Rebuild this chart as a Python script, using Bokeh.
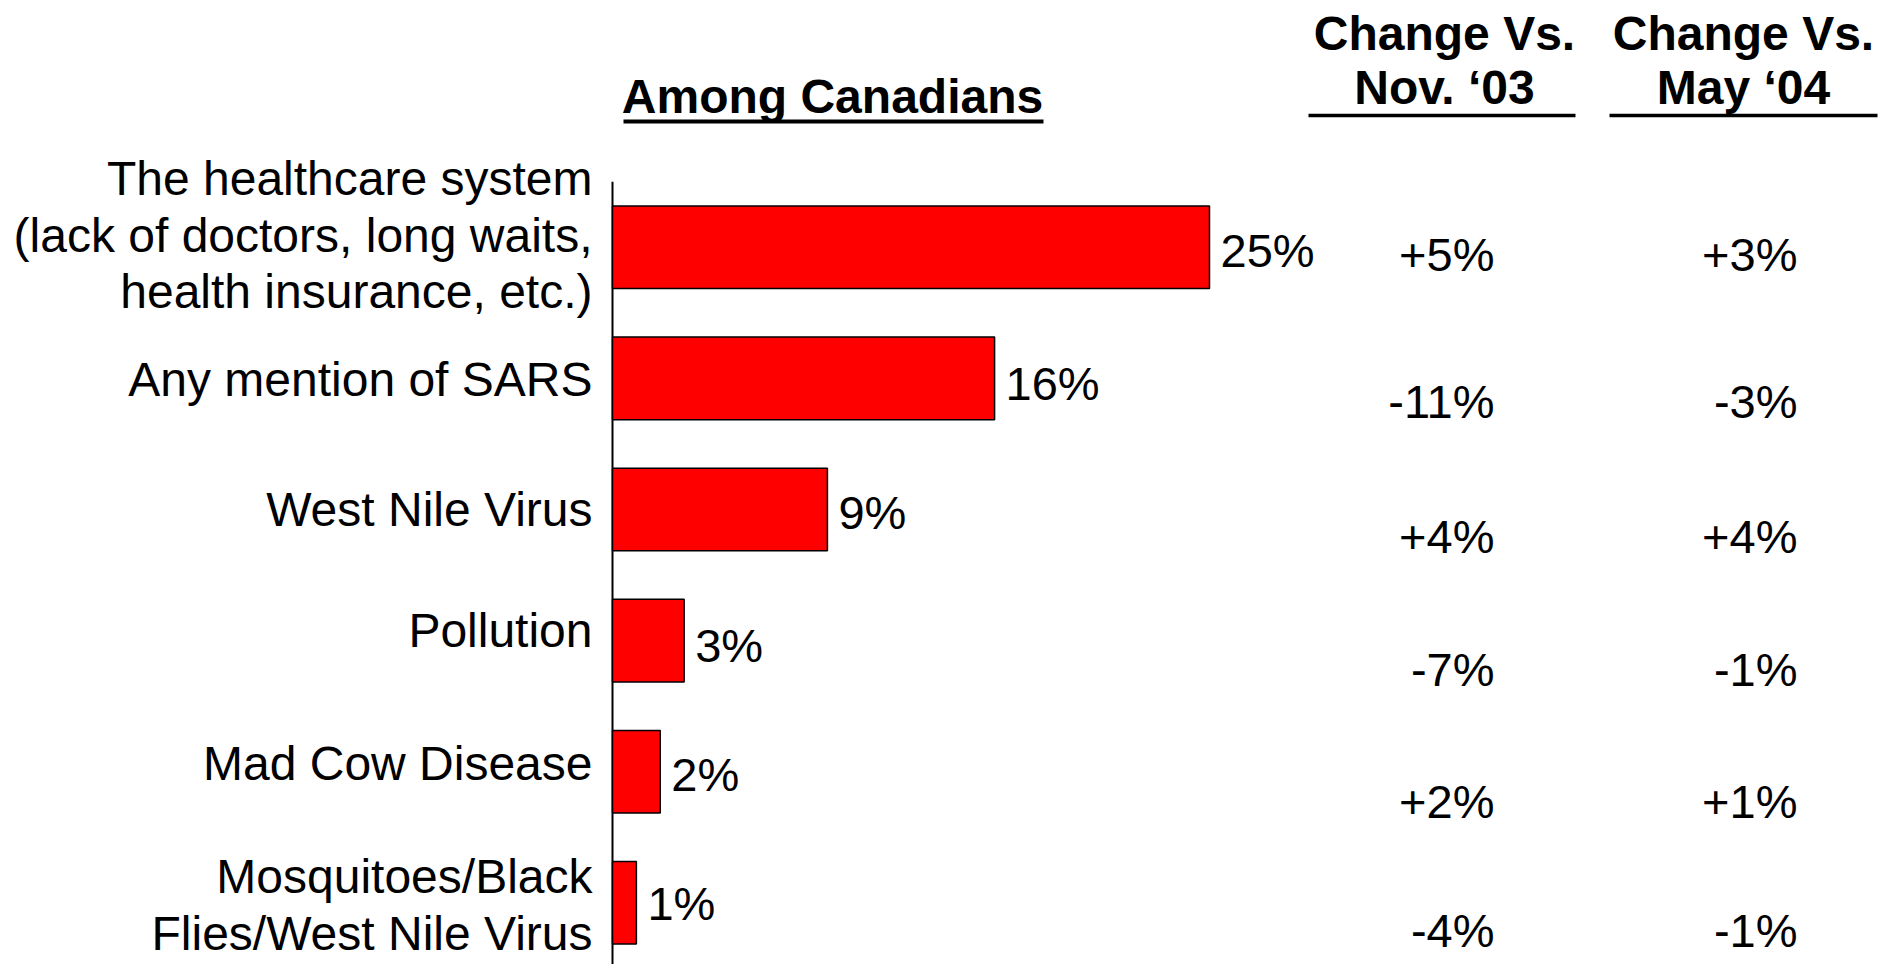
from bokeh.plotting import figure
from bokeh.models import Range1d
from bokeh.core.properties import value
from bokeh.embed import file_html
from bokeh.resources import INLINE

# ---------------- data ----------------
categories = [
    "The healthcare system\n(lack of doctors, long waits,\nhealth insurance, etc.)",
    "Any mention of SARS",
    "West Nile Virus",
    "Pollution",
    "Mad Cow Disease",
    "Mosquitoes/Black\nFlies/West Nile Virus",
]
values = [25, 16, 9, 3, 2, 1]
change_nov03 = ["+5%", "-11%", "+4%", "-7%", "+2%", "-4%"]
change_may04 = ["+3%", "-3%", "+4%", "-1%", "+1%", "-1%"]
main_header = "Among Canadians"
col_header_top = ["Change Vs.", "Change Vs."]
col_header_bottom = ["Nov. \u201803", "May \u201804"]

# ---------------- layout ----------------
W, H = 1882, 964
AXIS_PX = 612          # canvas x of the value axis
PX_PER_PCT = 23.88     # pixels per percentage point
ROW0_PX = 246.8        # canvas y of first category centre
ROW_PITCH = 131.1      # pixels between category centres

x_start = -AXIS_PX / PX_PER_PCT
x_end = (W - AXIS_PX) / PX_PER_PCT
y_top = -ROW0_PX / ROW_PITCH
y_bottom = y_top + H / ROW_PITCH


def dx(px):
    return (px - AXIS_PX) / PX_PER_PCT


def dy(py):
    return y_top + py / ROW_PITCH


FONT = value("Liberation Sans")
idx = list(range(len(categories)))

# per-row vertical nudges (screen px) seen in the original slide
label_nudge = [-12, 1, 0, -10, -8, 2]
value_nudge = [3, 5, 3, 5, 3, 1]
change_nudge = [7, 23, 27, 29, 30, 28]

p = figure(
    width=W, height=H,
    x_range=Range1d(x_start, x_end),
    y_range=Range1d(y_bottom, y_top),
    output_backend="svg", toolbar_location=None,
    x_axis_location=None, y_axis_location=None,
    min_border_left=0, min_border_right=0,
    min_border_top=0, min_border_bottom=0,
)
p.outline_line_color = None
p.grid.visible = False
p.background_fill_color = "white"

# category axis line
p.segment(x0=[0], y0=[-0.5], x1=[0], y1=[y_bottom], line_color="black", line_width=2)

# category labels
p.text(x=[0] * len(idx), y=idx, text=categories, x_offset=-20, y_offset=label_nudge,
       text_align="right", text_baseline="middle", text_line_height=1.07,
       text_font=FONT, text_font_size="48px", text_color="black")

# bars
p.hbar(y=idx, left=0, right=values, height=0.63,
       fill_color="#FF0000", line_color="black", line_width=1.5)

# bar value labels
p.text(x=values, y=idx, text=[f"{v}%" for v in values],
       x_offset=11, y_offset=value_nudge, text_align="left", text_baseline="middle",
       text_font=FONT, text_font_size="47px", text_color="black")

# change columns
p.text(x=[dx(1494)] * len(idx), y=idx, text=change_nov03, y_offset=change_nudge,
       text_align="right", text_baseline="middle",
       text_font=FONT, text_font_size="47px", text_color="black")
p.text(x=[dx(1797)] * len(idx), y=idx, text=change_may04, y_offset=change_nudge,
       text_align="right", text_baseline="middle",
       text_font=FONT, text_font_size="47px", text_color="black")

# headers
p.text(x=[dx(832)], y=[dy(96)], text=[main_header], text_align="center",
       text_baseline="middle", text_font=FONT, text_font_size="48px",
       text_font_style="bold", text_color="black")
p.segment(x0=[dx(623)], y0=[dy(121)], x1=[dx(1043)], y1=[dy(121)],
          line_color="black", line_width=4)

col_cx = [dx(1444), dx(1743)]
p.text(x=col_cx, y=[dy(33)] * 2, text=col_header_top, text_align="center",
       text_baseline="middle", text_font=FONT, text_font_size="48px",
       text_font_style="bold", text_color="black")
p.text(x=col_cx, y=[dy(87)] * 2, text=col_header_bottom, text_align="center",
       text_baseline="middle", text_font=FONT, text_font_size="48px",
       text_font_style="bold", text_color="black")
p.segment(x0=[dx(1308), dx(1609)], y0=[dy(115)] * 2,
          x1=[dx(1575), dx(1877)], y1=[dy(115)] * 2,
          line_color="black", line_width=3.5)

open("out.html", "w").write(file_html(p, INLINE))
